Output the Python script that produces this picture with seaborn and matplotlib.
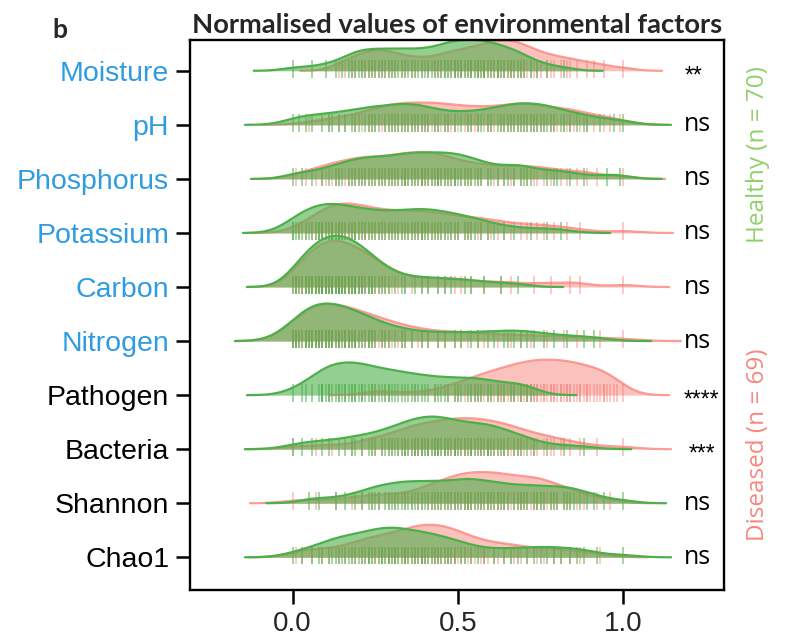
import numpy as np
import pandas as pd
import matplotlib
matplotlib.use("Agg")
import matplotlib.pyplot as plt
from matplotlib.transforms import Affine2D
import seaborn as sns

# ---------------- data (normalised values, in % of range) ----------------
variables = ["Moisture", "pH", "Phosphorus", "Potassium", "Carbon",
             "Nitrogen", "Pathogen", "Bacteria", "Shannon", "Chao1"]
significance = ["**", "ns", "ns", "ns", "ns", "ns", "****", "***", "ns", "ns"]
label_colors = ["#2F9BE0"] * 6 + ["black"] * 4
bandwidths = [0.039, 0.048, 0.042, 0.050, 0.046, 0.058, 0.046, 0.048, 0.043, 0.048]
x_ticks = [0.0, 0.5, 1.0]
x_tick_labels = ["0.0", "0.5", "1.0"]

moisture_healthy = [0, 6, 10, 13, 15, 17, 18, 19, 20, 21, 22, 23, 24, 25, 26, 27, 28, 29, 30, 31, 32, 33, 34, 35, 36,
                    37, 38, 39, 40, 41, 42, 43, 44, 45, 46, 46, 47, 48, 49, 49, 50, 51, 51, 52, 53, 54, 54, 55, 56, 56,
                    57, 58, 58, 59, 60, 61, 62, 62, 63, 64, 65, 66, 67, 68, 69, 70, 72, 74, 77, 82]
moisture_diseased = [14, 16, 18, 19, 21, 22, 23, 24, 25, 26, 27, 28, 29, 30, 31, 33, 34, 36, 37, 39, 41, 43, 44, 45, 47,
                     48, 49, 50, 51, 52, 53, 54, 55, 56, 57, 58, 58, 59, 60, 61, 62, 62, 63, 64, 64, 65, 66, 66, 67, 68,
                     69, 69, 70, 71, 72, 73, 74, 75, 77, 78, 79, 81, 83, 84, 86, 89, 91, 94, 100]
ph_healthy = [0, 2, 4, 6, 9, 11, 12, 14, 16, 18, 19, 20, 22, 23, 24, 25, 26, 28, 29, 30, 31, 32, 33, 34, 35, 36, 37, 38,
              39, 40, 41, 43, 44, 46, 47, 49, 51, 53, 54, 56, 57, 59, 60, 62, 63, 64, 65, 66, 67, 68, 69, 70, 71, 72,
              73, 74, 75, 76, 77, 78, 79, 81, 82, 84, 86, 88, 89, 93, 97, 100]
ph_diseased = [5, 11, 14, 16, 19, 21, 23, 24, 25, 27, 28, 29, 30, 31, 32, 33, 34, 35, 36, 37, 38, 39, 40, 41, 42, 43, 44,
               45, 46, 47, 48, 49, 50, 52, 53, 54, 55, 56, 58, 59, 60, 61, 63, 64, 65, 66, 67, 68, 69, 70, 71, 72, 73,
               74, 75, 76, 78, 79, 80, 82, 83, 84, 85, 87, 89, 91, 94, 96, 99]
phosphorus_healthy = [0, 3, 6, 9, 11, 13, 14, 15, 17, 18, 19, 20, 21, 22, 23, 24, 25, 26, 27, 28, 29, 30, 31, 32, 33, 34,
                      34, 35, 36, 37, 38, 39, 39, 40, 41, 42, 43, 44, 44, 45, 46, 47, 48, 49, 49, 50, 51, 52, 53, 54,
                      55, 56, 57, 59, 60, 62, 64, 65, 67, 69, 70, 71, 72, 77, 79, 80, 84, 88, 95, 99]
phosphorus_diseased = [1, 4, 7, 9, 10, 12, 13, 14, 16, 17, 18, 19, 20, 21, 22, 23, 24, 25, 26, 27, 28, 29, 30, 31, 32,
                       33, 34, 34, 35, 36, 37, 38, 39, 39, 40, 41, 42, 43, 44, 44, 45, 46, 47, 48, 49, 51, 52, 53, 54,
                       56, 57, 59, 61, 62, 64, 66, 67, 69, 71, 73, 74, 76, 78, 81, 83, 86, 89, 92, 100]
potassium_healthy = [0, 0, 1, 2, 3, 4, 5, 6, 7, 8, 8, 9, 9, 10, 11, 12, 12, 13, 14, 14, 15, 16, 17, 18, 19, 19, 20, 21,
                     22, 23, 24, 25, 26, 27, 28, 29, 30, 31, 32, 33, 34, 35, 36, 37, 38, 39, 39, 40, 41, 42, 43, 44,
                     45, 46, 47, 48, 49, 50, 52, 53, 54, 55, 57, 59, 61, 64, 67, 72, 77, 81]
potassium_diseased = [2, 4, 6, 7, 8, 9, 10, 11, 12, 12, 13, 14, 14, 15, 15, 16, 17, 18, 18, 19, 20, 21, 22, 22, 23, 24,
                      25, 26, 27, 28, 29, 30, 31, 32, 33, 34, 35, 36, 37, 38, 39, 40, 41, 42, 43, 44, 45, 46, 48, 49,
                      50, 52, 53, 54, 56, 57, 59, 60, 62, 64, 66, 69, 71, 74, 76, 79, 83, 87, 100]
carbon_healthy = [0, 1, 1, 2, 3, 4, 4, 5, 5, 6, 6, 7, 7, 8, 8, 9, 9, 9, 10, 10, 11, 11, 12, 12, 12, 13, 13, 14, 14, 14,
                  14, 15, 15, 16, 16, 17, 17, 18, 18, 19, 19, 19, 20, 20, 21, 21, 22, 23, 23, 24, 24, 25, 26, 27, 28,
                  29, 31, 33, 34, 37, 39, 41, 44, 46, 48, 52, 54, 58, 63, 68]
carbon_diseased = [0, 1, 2, 3, 3, 4, 5, 6, 6, 7, 7, 8, 8, 9, 9, 9, 10, 10, 11, 11, 12, 12, 13, 13, 14, 14, 14, 15, 15,
                   16, 16, 17, 17, 18, 18, 19, 19, 20, 21, 21, 22, 22, 23, 24, 24, 25, 26, 27, 28, 29, 30, 32, 34, 36,
                   39, 41, 44, 46, 49, 51, 54, 58, 63, 66, 73, 78, 84, 87, 100]
nitrogen_healthy = [0, 0, 1, 1, 2, 3, 4, 4, 5, 5, 6, 6, 7, 7, 8, 8, 9, 9, 10, 10, 11, 11, 12, 12, 13, 14, 14, 15, 16, 16,
                    17, 17, 18, 19, 19, 20, 21, 22, 23, 23, 24, 25, 27, 28, 29, 31, 33, 34, 36, 39, 41, 44, 46, 49, 51,
                    54, 56, 59, 61, 64, 65, 67, 69, 71, 73, 76, 79, 83, 88, 91]
nitrogen_diseased = [0, 1, 1, 2, 2, 3, 4, 4, 5, 6, 6, 7, 7, 8, 8, 9, 9, 10, 10, 11, 12, 12, 13, 13, 14, 14, 15, 16, 16,
                     17, 18, 18, 19, 19, 20, 21, 22, 23, 24, 24, 25, 26, 27, 28, 29, 30, 32, 33, 34, 36, 38, 39, 41, 44,
                     46, 49, 51, 53, 56, 58, 62, 66, 69, 72, 77, 82, 86, 93, 100]
pathogen_healthy = [0, 3, 4, 6, 8, 9, 9, 9, 10, 11, 11, 12, 13, 14, 14, 15, 16, 16, 17, 18, 18, 19, 19, 20, 21, 21, 22,
                    23, 24, 24, 25, 26, 27, 28, 29, 29, 30, 31, 32, 33, 34, 35, 36, 37, 38, 39, 40, 41, 43, 44, 45, 46,
                    47, 49, 50, 51, 53, 54, 55, 56, 57, 59, 60, 62, 64, 66, 67, 69, 71, 72]
pathogen_diseased = [25, 28, 37, 43, 47, 49, 50, 52, 54, 55, 56, 57, 58, 59, 60, 61, 62, 63, 63, 64, 65, 66, 67, 67, 68,
                     69, 69, 70, 71, 71, 72, 73, 73, 74, 74, 75, 76, 76, 77, 78, 78, 79, 79, 80, 81, 81, 82, 83, 83, 84,
                     84, 85, 86, 87, 87, 88, 89, 89, 90, 91, 92, 93, 94, 94, 95, 96, 97, 98, 100]
bacteria_healthy = [0, 3, 6, 9, 11, 14, 16, 18, 19, 21, 23, 24, 25, 27, 28, 29, 30, 31, 32, 33, 34, 34, 35, 36, 37, 37,
                    38, 39, 39, 40, 41, 41, 42, 43, 43, 44, 44, 45, 46, 46, 47, 48, 49, 49, 50, 51, 52, 53, 54, 54, 55,
                    56, 57, 58, 59, 59, 60, 61, 62, 63, 64, 65, 67, 68, 69, 71, 73, 77, 82, 88]
bacteria_diseased = [0, 7, 12, 18, 21, 24, 25, 27, 29, 30, 32, 33, 34, 35, 36, 37, 38, 38, 39, 40, 41, 42, 43, 44, 44,
                     45, 46, 47, 47, 48, 49, 49, 50, 51, 52, 52, 53, 54, 54, 55, 56, 57, 57, 58, 59, 59, 60, 61, 62, 63,
                     64, 64, 65, 66, 67, 68, 69, 70, 72, 73, 74, 76, 78, 79, 81, 84, 87, 92, 100]
shannon_healthy = [5, 8, 13, 16, 19, 21, 23, 24, 25, 26, 28, 29, 30, 31, 32, 33, 34, 35, 36, 37, 38, 39, 40, 41, 42, 43,
                   44, 45, 46, 47, 48, 49, 50, 51, 52, 53, 53, 54, 55, 56, 57, 58, 59, 60, 61, 62, 63, 64, 65, 67, 68,
                   69, 70, 71, 73, 74, 75, 76, 78, 79, 80, 82, 83, 84, 85, 87, 89, 91, 94, 100]
shannon_diseased = [0, 7, 13, 18, 21, 24, 26, 29, 31, 34, 36, 38, 39, 41, 42, 43, 44, 45, 46, 47, 48, 49, 49, 50, 51,
                    52, 52, 53, 54, 54, 55, 56, 57, 57, 58, 59, 59, 60, 61, 62, 62, 63, 64, 64, 65, 66, 67, 68, 69, 69,
                    70, 71, 72, 73, 74, 74, 75, 76, 77, 78, 79, 80, 82, 83, 84, 86, 88, 92, 96]
chao1_healthy = [0, 3, 6, 8, 9, 11, 12, 13, 14, 15, 16, 17, 18, 19, 20, 21, 22, 23, 23, 24, 25, 26, 27, 27, 28, 29, 29,
                 30, 31, 31, 32, 33, 34, 34, 35, 36, 37, 38, 39, 39, 40, 41, 42, 43, 44, 45, 46, 47, 48, 49, 51, 52,
                 54, 56, 58, 61, 64, 66, 68, 71, 73, 75, 77, 79, 81, 84, 86, 88, 92, 100]
chao1_diseased = [1, 3, 6, 9, 11, 14, 16, 18, 19, 21, 22, 23, 24, 25, 26, 27, 28, 29, 30, 31, 32, 33, 34, 34, 35, 36, 37,
                  37, 38, 39, 39, 40, 40, 41, 42, 43, 43, 44, 44, 45, 46, 47, 47, 48, 49, 49, 50, 51, 52, 53, 54, 55,
                  57, 58, 59, 61, 62, 64, 66, 67, 69, 71, 74, 76, 79, 81, 84, 87, 93]

healthy_values = [moisture_healthy, ph_healthy, phosphorus_healthy, potassium_healthy, carbon_healthy,
                  nitrogen_healthy, pathogen_healthy, bacteria_healthy, shannon_healthy, chao1_healthy]
diseased_values = [moisture_diseased, ph_diseased, phosphorus_diseased, potassium_diseased, carbon_diseased,
                   nitrogen_diseased, pathogen_diseased, bacteria_diseased, shannon_diseased, chao1_diseased]

rows = []
for var, h, d in zip(variables, healthy_values, diseased_values):
    rows += [(var, "Healthy", v / 100.0) for v in h]
    rows += [(var, "Diseased", v / 100.0) for v in d]
df = pd.DataFrame(rows, columns=["variable", "group", "value"])

# ---------------- style ----------------
sns.set_style("ticks")
plt.rcParams["font.family"] = ["Liberation Sans", "DejaVu Sans"]

GREEN = "#4DAF4A"
PINK = "#F8766D"
styles = {
    "Diseased": dict(color=PINK, fill_alpha=0.45, line_alpha=0.7, rug_alpha=0.45),
    "Healthy": dict(color=GREEN, fill_alpha=0.6, line_alpha=1.0, rug_alpha=0.6),
}

fig = plt.figure(figsize=(7.88, 6.4), dpi=100)
ax = fig.add_axes([0.2411, 0.0781, 0.6777, 0.8594])

n = len(variables)
pending = []
for i, var in enumerate(variables):
    y0 = n - i
    sub = df[df["variable"] == var]
    for grp in ["Diseased", "Healthy"]:
        vals = sub.loc[sub["group"] == grp, "value"].to_numpy()
        st = styles[grp]
        ax.vlines(vals, y0 - 0.13, y0 + 0.2, color=st["color"], alpha=st["rug_alpha"],
                  lw=1.2, zorder=2)
    for grp in ["Diseased", "Healthy"]:
        vals = sub.loc[sub["group"] == grp, "value"].to_numpy()
        st = styles[grp]
        factor = bandwidths[i] / vals.std(ddof=1)
        nc, nl = len(ax.collections), len(ax.lines)
        sns.kdeplot(x=vals, ax=ax, bw_method=factor, cut=3, fill=True, color=st["color"],
                    alpha=st["fill_alpha"], linewidth=0, zorder=2)
        sns.kdeplot(x=vals, ax=ax, bw_method=factor, cut=3, color=st["color"],
                    alpha=st["line_alpha"], linewidth=1.6, zorder=2)
        new = list(ax.collections[nc:]) + list(ax.lines[nl:])
        pending.append((y0, new))

dmax = max(np.max(l.get_ydata()) for l in ax.lines)
k = 0.95 / dmax
for y0, arts in pending:
    tr = Affine2D().scale(1, k).translate(0, y0) + ax.transData
    for a in arts:
        a.set_transform(tr)

ax.set_xlim(-0.31, 1.304)
ax.set_ylim(0.395, 10.57)
ax.set_xlabel("")
ax.set_ylabel("")
ax.set_yticks(list(range(n, 0, -1)))
ax.set_yticklabels(variables, fontsize=20.5)
for lab, c in zip(ax.get_yticklabels(), label_colors):
    lab.set_color(c)
ax.set_xticks(x_ticks)
ax.set_xticklabels(x_tick_labels, fontsize=20)
ax.tick_params(axis="both", direction="out", length=10, width=1.8, color="black", pad=5)
for sp in ax.spines.values():
    sp.set_visible(True)
    sp.set_color("black")
    sp.set_linewidth(1.7)

for i, s in enumerate(significance):
    if s == "ns":
        ax.text(1.183, n - i, s, ha="left", va="center", fontsize=18, color="black",
                family=["Open Sans", "DejaVu Sans"])
    else:
        xs = {"**": 1.185, "***": 1.196, "****": 1.183}[s]
        ax.text(xs, n - i - 0.09, s, ha="left", va="center", fontsize=16.5, color="black",
                family=["Liberation Sans", "DejaVu Sans"])

ax.set_title("Normalised values of environmental factors", fontsize=19.7, fontweight="bold",
             family=["Lato", "DejaVu Sans"], pad=5)
fig.text(0.066, 0.94, "b", fontsize=19, fontweight="bold", family=["Lato", "DejaVu Sans"],
         va="baseline")
fig.text(0.962, 0.758, "Healthy (n = 70)", rotation=90, ha="center", va="center",
         fontsize=17.5, color="#8FD16A", family=["Open Sans", "DejaVu Sans"])
fig.text(0.962, 0.305, "Diseased (n = 69)", rotation=90, ha="center", va="center",
         fontsize=17.5, color="#F8877F", family=["Open Sans", "DejaVu Sans"])

fig.savefig("out.png", dpi=100)
